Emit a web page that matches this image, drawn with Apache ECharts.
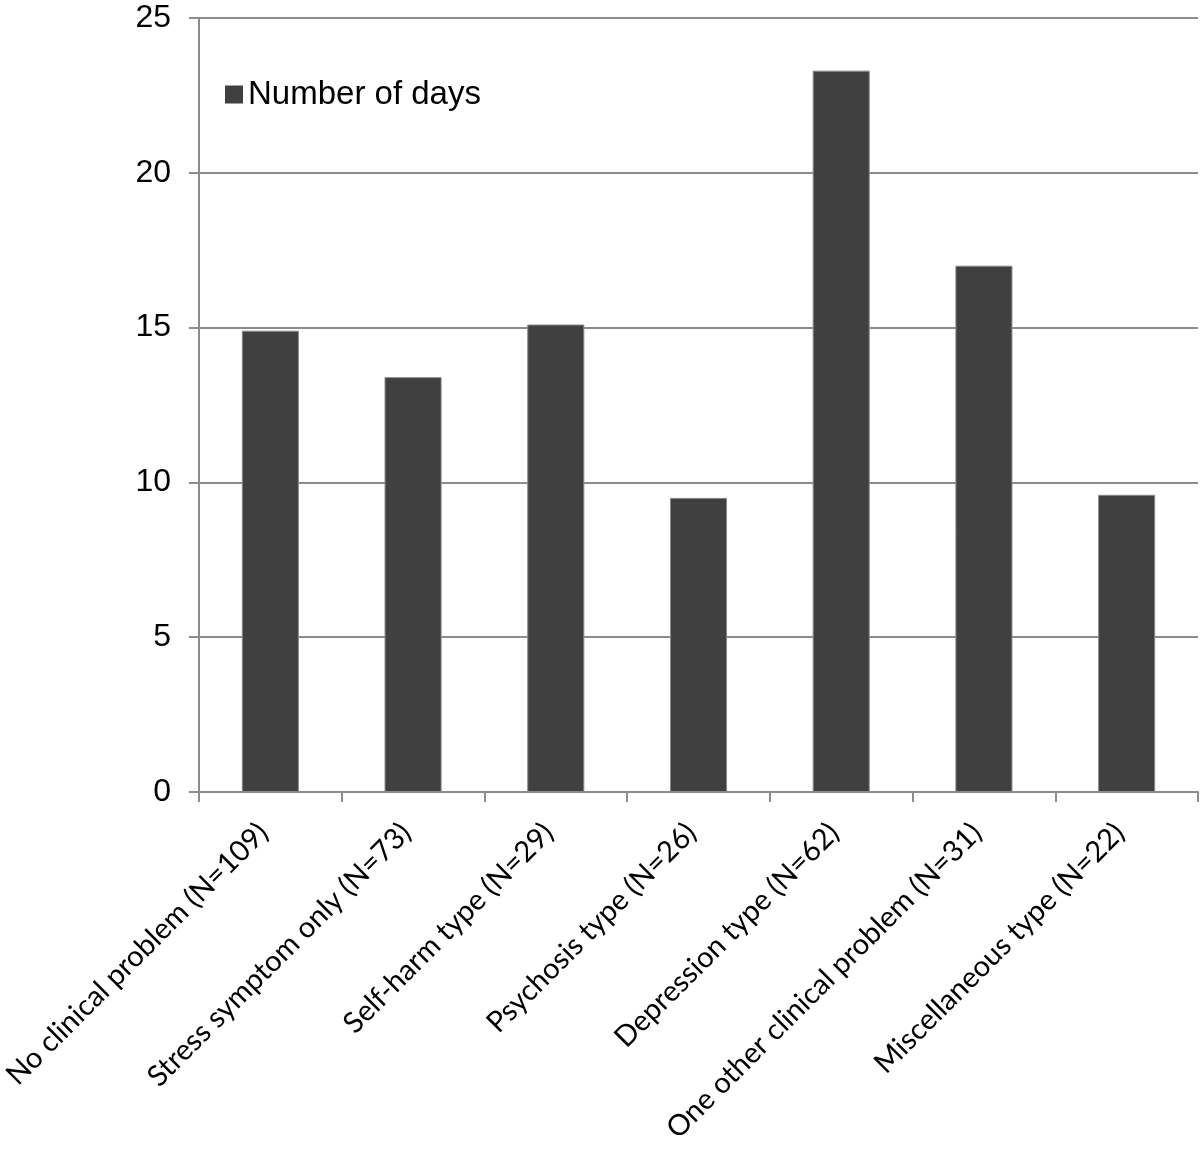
<!DOCTYPE html>
<html>
<head>
<meta charset="utf-8">
<script src="https://cdn.jsdelivr.net/npm/echarts@6/dist/echarts.min.js"></script>
<style>html,body{margin:0;padding:0;background:#fff;}#c{width:1200px;height:1155px;}</style>
</head>
<body>
<div id="c"></div>
<script>
const categories = ['No clinical problem (N=109)', 'Stress symptom only (N=73)', 'Self-harm type (N=29)', 'Psychosis type (N=26)', 'Depression type (N=62)', 'One other clinical problem (N=31)', 'Miscellaneous type (N=22)'];
const numberOfDays = [14.9, 13.4, 15.1, 9.5, 23.3, 17.0, 9.6];
const seriesName = 'Number of days';

const chart = echarts.init(document.getElementById('c'));
chart.setOption({
  animation: false,
  backgroundColor: '#fff',
  grid: {left: 199, right: 2, top: 18, bottom: 363, containLabel: false, outerBoundsMode: 'none'},
  legend: {
    show: true, left: 220, top: 73, itemWidth: 18, itemHeight: 18, itemGap: 8,
    icon: 'rect',
    itemStyle: {borderWidth: 0},
    textStyle: {fontFamily: 'Liberation Sans', fontSize: 33, color: '#000'},
    data: [seriesName]
  },
  xAxis: {
    type: 'category', data: categories,
    axisLine: {lineStyle: {color: '#8c8c8c', width: 2}},
    axisTick: {show: true, length: 10, lineStyle: {color: '#8c8c8c', width: 2}},
    axisLabel: {rotate: 45, interval: 0, margin: 29, padding: [0, 10, 0, 0],
      fontFamily: 'Lato', fontSize: 29, color: '#000'}
  },
  yAxis: {
    type: 'value', min: 0, max: 25, interval: 5,
    axisLine: {show: true, lineStyle: {color: '#8c8c8c', width: 2}},
    axisTick: {show: true, length: 10, lineStyle: {color: '#8c8c8c', width: 2}},
    splitLine: {lineStyle: {color: '#8c8c8c', width: 2}},
    axisLabel: {margin: 28, fontFamily: 'Liberation Sans', fontSize: 32, color: '#000'}
  },
  series: [{
    name: seriesName, type: 'bar', data: numberOfDays, barWidth: '40%',
    itemStyle: {color: '#404040', borderColor: '#8a8a8a', borderWidth: 1}
  }]
});
</script>
</body>
</html>
